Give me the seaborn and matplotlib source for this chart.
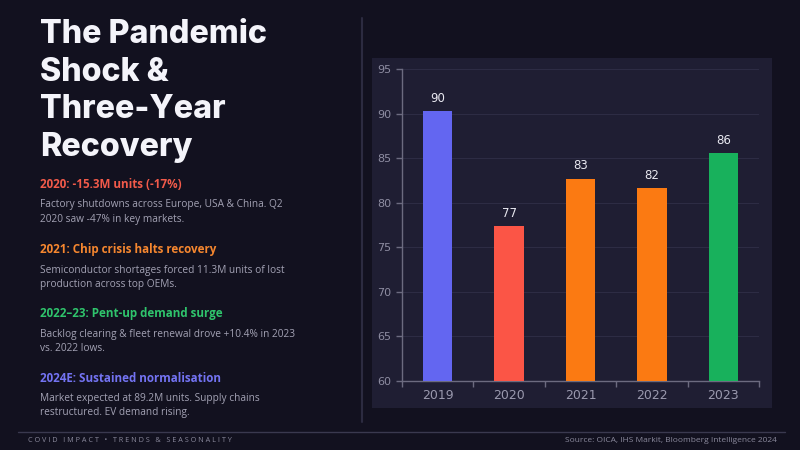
import matplotlib
matplotlib.use("Agg")
import matplotlib.pyplot as plt
import matplotlib.patches as patches
from matplotlib.ticker import FixedLocator
import pandas as pd
import seaborn as sns

# data
years = ["2019", "2020", "2021", "2022", "2023"]
units_m = [90.3, 77.4, 82.7, 81.6, 85.6]
bar_colors = ["#6366f1", "#fb5546", "#fb7a12", "#fb7a12", "#18b15c"]

title_lines = ["The Pandemic", "Shock &", "Three-Year", "Recovery"]
notes = [
    ("2020: -15.3M units (-17%)", "#f25a4a",
     ["Factory shutdowns across Europe, USA & China. Q2",
      "2020 saw -47% in key markets."]),
    ("2021: Chip crisis halts recovery", "#f6872f",
     ["Semiconductor shortages forced 11.3M units of lost",
      "production across top OEMs."]),
    ("2022\u201323: Pent-up demand surge", "#2fc46c",
     ["Backlog clearing & fleet renewal drove +10.4% in 2023",
      "vs. 2022 lows."]),
    ("2024E: Sustained normalisation", "#7373f2",
     ["Market expected at 89.2M units. Supply chains",
      "restructured. EV demand rising."]),
]
footer_left = "C O V I D   I M P A C T   \u2022   T R E N D S   &   S E A S O N A L I T Y"
footer_right = "Source: OICA, IHS Markit, Bloomberg Intelligence 2024"

df = pd.DataFrame({"year": years, "units": units_m})

sns.set_theme(style="dark")
plt.rcParams["font.family"] = ["Open Sans", "DejaVu Sans"]

BG = "#12111f"
PANEL = "#1f1e33"
W, H = 800, 450

fig = plt.figure(figsize=(8, 4.5), dpi=100, facecolor=BG)

def fx(px):
    return px / W

def fy(py):
    return 1 - py / H

# chart panel background
fig.patches.append(patches.Rectangle((fx(372), fy(408)), fx(772) - fx(372), fy(58) - fy(408),
                                     transform=fig.transFigure, facecolor=PANEL,
                                     edgecolor="none", zorder=-1))
# divider and footer rule
fig.add_artist(plt.Line2D([fx(362), fx(362)], [fy(18), fy(422)], color="#2c2b40", lw=1.5))
fig.add_artist(plt.Line2D([fx(18), fx(785)], [fy(432), fy(432)], color="#3a394f", lw=1))

ax = fig.add_axes([fx(402), fy(381), fx(759) - fx(402), fy(69) - fy(381)])
ax.set_zorder(2)
ax.set_facecolor("none")
sns.barplot(data=df, x="year", y="units", hue="year", palette=bar_colors,
            width=0.41, legend=False, saturation=1, linewidth=0, ax=ax, zorder=3)
ax.set_ylim(60, 95)
ax.set_xlim(-0.5, 4.5)
ax.set_yticks(range(60, 96, 5))
ax.set_xlabel("")
ax.set_ylabel("")
ax.grid(axis="y", color="#2d2c44", lw=0.8, zorder=0)
ax.grid(axis="x", visible=False)

for i, v in enumerate(units_m):
    ax.text(i, v + 0.7, f"{v:.0f}", ha="center", va="bottom",
            color="#e8e8f0", fontsize=8.5, family="DejaVu Sans")

for s in ["top", "right"]:
    ax.spines[s].set_visible(False)
for s in ["left", "bottom"]:
    ax.spines[s].set_color("#6c6b80")
    ax.spines[s].set_linewidth(1)

ax.tick_params(axis="y", colors="#6c6b80", labelcolor="#8e8da2", labelsize=8,
               length=4, width=1, direction="out", left=True)
ax.tick_params(axis="x", which="major", length=0, labelcolor="#9a99ae", labelsize=9, pad=6)
ax.xaxis.set_minor_locator(FixedLocator([-0.5, 0.5, 1.5, 2.5, 3.5, 4.5]))
ax.tick_params(axis="x", which="minor", bottom=True, length=4, width=1, color="#6c6b80",
               direction="out")
for lab in ax.get_xticklabels() + ax.get_yticklabels():
    lab.set_family("DejaVu Sans")

# left text column
for k, line in enumerate(title_lines):
    fig.text(fx(40), fy(43 + 37.7 * k), line, color="#f4f4fa", fontsize=23.2,
             fontweight="heavy", family=["Inter", "DejaVu Sans"], va="baseline")

head_y = [185, 250, 314, 378]
for (head, col, body), y0 in zip(notes, head_y):
    fig.text(fx(40), fy(y0), head, color=col, fontsize=8.4, fontweight="bold", va="center")
    for j, b in enumerate(body):
        fig.text(fx(40), fy(y0 + 20 + 14.3 * j), b, color="#a3a2b4", fontsize=7.3, va="center")

fig.text(fx(28), fy(441), footer_left, color="#8a899c", fontsize=5.2, va="center")
fig.text(fx(777), fy(441), footer_right, color="#8a899c", fontsize=6.05, va="center", ha="right")

fig.savefig("out.png", dpi=100, facecolor=BG)
